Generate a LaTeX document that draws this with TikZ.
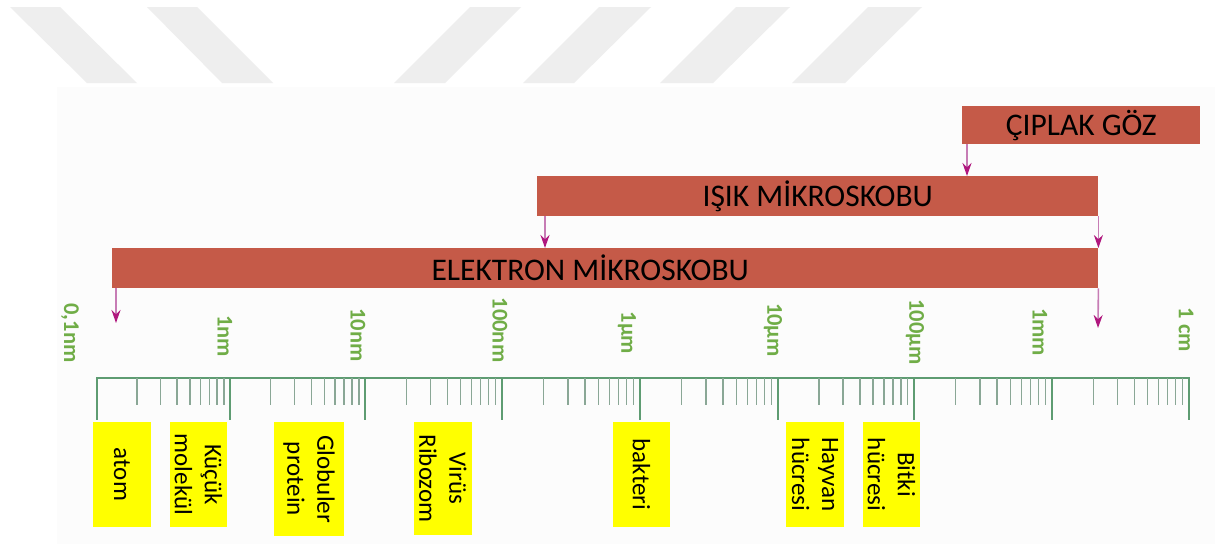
\documentclass[tikz,border=0pt]{standalone}
\usepackage{fontspec}
\setmainfont{Carlito}
\usetikzlibrary{arrows.meta}
\definecolor{barred}{HTML}{C55A48}
\definecolor{scalegreen}{HTML}{70AD47}
\definecolor{axisgreen}{HTML}{5E9C72}
\definecolor{minortick}{HTML}{8AA796}
\definecolor{arrowmag}{HTML}{B0177E}
\definecolor{shaftmag}{HTML}{C77CB5}
\definecolor{stripegray}{HTML}{EEEEEE}
\definecolor{texturegray}{HTML}{FCFCFC}
\definecolor{boxyellow}{HTML}{FFFF00}
\begin{document}
\begin{tikzpicture}[x=1pt,y=-1pt,
  barbox/.style={fill=barred, draw=none, inner sep=0pt, anchor=north west,
    font=\fontsize{31.5}{36}\selectfont, text=black},
  magarrow/.style={draw=shaftmag, line width=1.6pt,
    -{Stealth[length=13pt,width=9pt,color=arrowmag]}},
  axisline/.style={draw=axisgreen, line width=1.6pt},
  majortick/.style={draw=axisgreen, line width=1.8pt},
  minortickline/.style={draw=minortick, line width=1.4pt},
  scalelabel/.style={rotate=-90, text=scalegreen, inner sep=0pt,
    font=\fontsize{22.5}{26}\bfseries\selectfont},
  itembox/.style={fill=boxyellow, draw=none, rotate=-90, inner sep=0pt,
    align=center, text=black, font=\fontsize{25}{30}\selectfont},
  stripe/.style={fill=stripegray, draw=none}]
\useasboundingbox (0,0) rectangle (1215,544);
\fill[white] (0,0) rectangle (1215,544);
\fill[texturegray] (57,87) rectangle (1215,544);
% watermark stripes
\fill[stripe] (10,7) -- (60,7) -- (137,83) -- (87,83) -- cycle;
\fill[stripe] (147,7) -- (197,7) -- (273,83) -- (222,83) -- cycle;
\fill[stripe] (470,7) -- (521,7) -- (445,83) -- (394,83) -- cycle;
\fill[stripe] (599,7) -- (651,7) -- (574,83) -- (523,83) -- cycle;
\fill[stripe] (736,7) -- (790,7) -- (713,83) -- (660,83) -- cycle;
\fill[stripe] (868,7) -- (922,7) -- (845,83) -- (792,83) -- cycle;

% bars
\node[barbox, minimum width=238pt, minimum height=38pt] (goz) at (962,106) {ÇIPLAK GÖZ};
\node[barbox, minimum width=561pt, minimum height=40pt] (isik) at (537,176) {IŞIK MİKROSKOBU};
\node[barbox, minimum width=986pt, minimum height=40pt] (elek) at (112,248) {\hspace*{-30pt}ELEKTRON MİKROSKOBU};

% arrows
\coordinate (elekleftend) at (116,323);
\coordinate (elekrightend) at (1098,328);
\draw[magarrow] ([xshift=5pt]goz.south west) -- ([xshift=5pt]goz.south west |- isik.north);
\draw[magarrow] ([xshift=8pt]isik.south west) -- ([xshift=8pt]isik.south west |- elek.north);
\draw[magarrow] (isik.south east) -- (isik.south east |- elek.north);
\draw[magarrow] ([xshift=4pt]elek.south west) -- (elekleftend);
\draw[magarrow] (elek.south east) -- (elekrightend);

% scale
\draw[axisline] (97,378) -- (1189,378);
\foreach \a/\b in {97/230,230/365,365/502,502/640,640/778,778/914,914/1052,1052/1189}{
  \foreach \m in {2,...,9}{
    \draw[minortickline] ({\a+log10(\m)*(\b-\a)},378) -- ++(0,27);
  }
}
\foreach \a in {97,230,365,502,640,778,914,1052,1189}{
  \draw[majortick] (\a,377) -- (\a,420);
}

% scale labels
\node[scalelabel] (l0) at (70,333) {0,1nm};
\node[scalelabel] (l1) at (225,336) {1nm};
\node[scalelabel] (l2) at (358,335) {10nm};
\node[scalelabel] (l3) at (500,330) {100nm};
\node[scalelabel] (l4) at (627,333) {1µm};
\node[scalelabel] (l5) at (773,330) {10µm};
\node[scalelabel] (l6) at (915,332) {100µm};
\node[scalelabel] (l7) at (1040,332) {1mm};
\node[scalelabel] (l8) at (1186,330) {1 cm};

% item boxes
\node[itembox, minimum width=105pt, minimum height=58pt] (atom) at (122,474.5) {atom};
\node[itembox, minimum width=105pt, minimum height=57pt] (molekul) at (198.5,474.5) {Küçük\\molekül};
\node[itembox, minimum width=114pt, minimum height=70pt] (protein) at (309,479) {Globuler\\protein};
\node[itembox, minimum width=113pt, minimum height=58pt] (virus) at (443,478.5) {Virüs\\Ribozom};
\node[itembox, minimum width=105pt, minimum height=57pt] (bakteri) at (641.5,474.5) {bakteri};
\node[itembox, minimum width=105pt, minimum height=58pt] (hayvan) at (815,474.5) {Hayvan\\hücresi};
\node[itembox, minimum width=105pt, minimum height=57pt] (bitki) at (891.5,474.5) {Bitki\\hücresi};
\end{tikzpicture}
\end{document}
